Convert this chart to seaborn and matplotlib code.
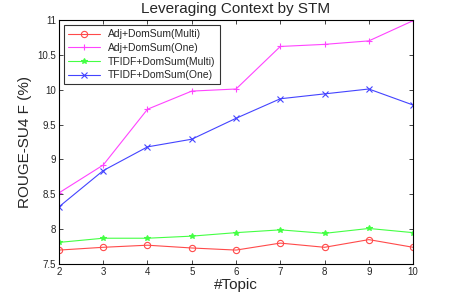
import matplotlib
matplotlib.use("Agg")
from matplotlib import pyplot as plt
import seaborn as sns

topics = [2, 3, 4, 5, 6, 7, 8, 9, 10]
adj_multi = [7.70, 7.74, 7.77, 7.73, 7.70, 7.80, 7.74, 7.85, 7.74]
adj_one = [8.52, 8.92, 9.72, 9.98, 10.01, 10.62, 10.65, 10.70, 10.99]
tfidf_multi = [7.81, 7.87, 7.87, 7.90, 7.95, 7.99, 7.94, 8.01, 7.95]
tfidf_one = [8.32, 8.84, 9.18, 9.29, 9.59, 9.87, 9.94, 10.01, 9.78]

series = [
    ("Adj+DomSum(Multi)", adj_multi, "#ff4a4a", "o"),
    ("Adj+DomSum(One)", adj_one, "#ff44ff", "+"),
    ("TFIDF+DomSum(Multi)", tfidf_multi, "#44ff44", "*"),
    ("TFIDF+DomSum(One)", tfidf_one, "#4444ff", "x"),
]

sns.set_style("ticks")
plt.rcParams["font.family"] = ["Liberation Sans", "DejaVu Sans"]

fig = plt.figure(figsize=(4.57, 2.98), dpi=100)
ax = fig.add_axes([0.129, 0.114, 0.775, 0.819])

for name, vals, col, mk in series:
    sns.lineplot(x=topics, y=vals, ax=ax, color=col, marker=mk, label=name,
                 linewidth=0.8, markersize=4.5 if mk != "*" else 4,
                 markerfacecolor="none" if mk == "o" else col,
                 markeredgecolor=col, markeredgewidth=0.8)

ax.set_xlim(2, 10)
ax.set_ylim(7.5, 11)
ax.set_xticks(topics)
ax.set_yticks([7.5, 8, 8.5, 9, 9.5, 10, 10.5, 11])
ax.set_yticklabels(["7.5", "8", "8.5", "9", "9.5", "10", "10.5", "11"])
ax.tick_params(direction="in", length=3, width=0.6, labelsize=7, top=True, right=True, pad=2)
for s in ax.spines.values():
    s.set_linewidth(0.8)
    s.set_color("black")

ax.set_title("Leveraging Context by STM", fontsize=11, pad=5)
ax.set_xlabel("#Topic", fontsize=11, labelpad=1)
ax.set_ylabel("ROUGE-SU4 F (%)", fontsize=11, labelpad=4)

leg = ax.legend(loc="upper left", fontsize=7.5, frameon=True, fancybox=False,
                edgecolor="black", borderpad=0.4, labelspacing=0.35,
                handlelength=3, borderaxespad=0.5)
leg.get_frame().set_linewidth(0.8)

fig.savefig("out.png", dpi=100)
